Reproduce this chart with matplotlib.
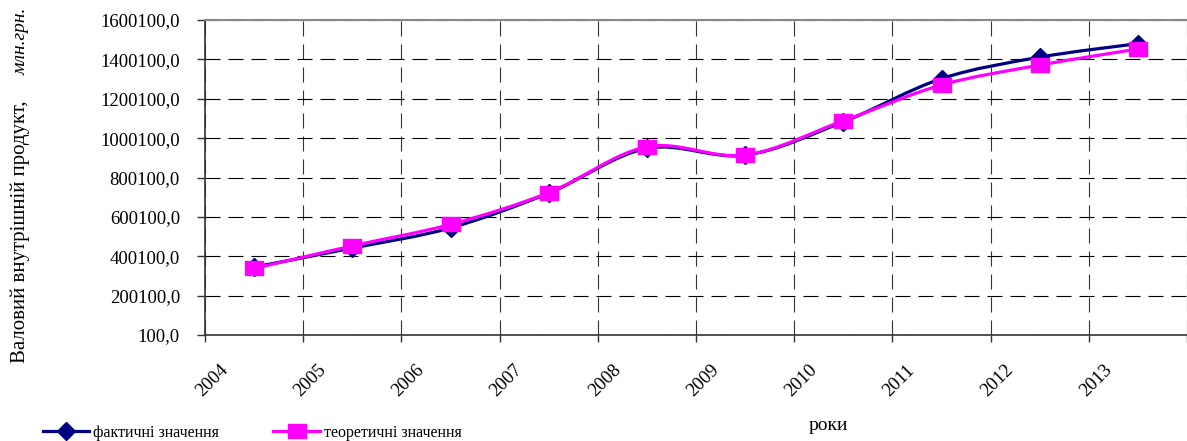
import matplotlib
matplotlib.use("Agg")
import matplotlib.pyplot as plt
from matplotlib.path import Path
from matplotlib.patches import PathPatch
from matplotlib.lines import Line2D
import matplotlib.transforms as mtransforms
import numpy as np

years = ["2004", "2005", "2006", "2007", "2008", "2009", "2010", "2011", "2012", "2013"]
actual = [345113, 441452, 544153, 720731, 948056, 913345, 1082569, 1302079, 1411238, 1480000]
theoretical = [338000, 453000, 562000, 723000, 956000, 914000, 1088000, 1270000, 1371000, 1453000]
yticks = [100 + 200000 * k for k in range(9)]
ytick_labels = ["{:d},0".format(v) for v in yticks]

W, H = 1187, 441
fig = plt.figure(figsize=(W / 100, H / 100), dpi=100)
ax = fig.add_axes([205 / W, (H - 335) / H, (W - 205) / W, 315 / H])

serif = ["Liberation Serif", "DejaVu Serif"]
x = np.arange(len(years)) + 0.5


def smooth_path(xs, ys):
    pts = np.column_stack([xs, ys]).astype(float)
    n = len(pts)
    verts = [pts[0]]
    codes = [Path.MOVETO]
    for i in range(n - 1):
        p0 = pts[i - 1] if i > 0 else pts[i]
        p1 = pts[i]
        p2 = pts[i + 1]
        p3 = pts[i + 2] if i + 2 < n else pts[i + 1]
        c1 = p1 + (p2 - p0) / 6.0
        c2 = p2 - (p3 - p1) / 6.0
        verts += [c1, c2, p2]
        codes += [Path.CURVE4] * 3
    return Path(verts, codes)


navy = "#000080"
mag = "#FF00FF"
ax.add_patch(PathPatch(smooth_path(x, actual), fill=False, edgecolor=navy, lw=2.3, zorder=3))
ax.plot(x, actual, linestyle="none", marker="D", markersize=9, color=navy, zorder=4)
ax.add_patch(PathPatch(smooth_path(x, theoretical), fill=False, edgecolor=mag, lw=2.3, zorder=5))
rect = [(-9, -6.5), (9, -6.5), (9, 6.5), (-9, 6.5), (-9, -6.5)]
ax.plot(x, theoretical, linestyle="none", marker=rect, markersize=13, color=mag, zorder=6)

ax.set_xlim(0, (W - 205) / 98.7)
ax.set_ylim(100, 1600100)
ax.set_xticks(range(0, 11))
ax.set_yticks(yticks)
ax.set_yticklabels(ytick_labels, family=serif, fontsize=13.5)
ax.tick_params(axis="x", labelbottom=False, direction="out", length=5, width=1, color="#333333")
ax.tick_params(axis="y", direction="out", length=6, width=1, color="#333333", pad=12)

ax.grid(True, color="black", linewidth=0.8, linestyle=(0, (13.5, 7.2)), zorder=1)
ax.xaxis.grid(True, color="#333333")
for s in ["left", "bottom"]:
    ax.spines[s].set_color("#333333")
    ax.spines[s].set_linewidth(1.2)
ax.spines["top"].set_color("#888888")
ax.spines["top"].set_linewidth(1.5)
ax.spines["right"].set_visible(False)

off = mtransforms.ScaledTranslation(7 / 100, 0, fig.dpi_scale_trans)
tr = mtransforms.blended_transform_factory(ax.transData, ax.transAxes) + off
for i, y in enumerate(years):
    ax.text(i, (335 - 381) / 315, y, transform=tr, rotation=45, ha="center", va="center",
            family=serif, fontsize=13.5, rotation_mode="anchor")

fig.text(828 / W, 1 - 425 / H, "роки", ha="center", va="center", family=serif, fontsize=14)

fig.text(20 / W, 1 - 363 / H, "Валовий внутрішній продукт,", rotation=90, ha="center",
         va="bottom", family=serif, fontsize=15)
fig.text(21 / W, 1 - 8 / H, "млн.грн.", rotation=90, ha="center", va="top",
         family=serif, fontsize=14, style="italic")

h1 = Line2D([], [], color=navy, lw=2.3, marker="D", markersize=9)
h2 = Line2D([], [], color=mag, lw=2.3, marker=rect, markersize=13)
fig.legend([h1, h2], ["фактичні значення", "теоретичні значення"], loc="center left",
           bbox_to_anchor=(43 / W, 1 - 433 / H), ncol=2, frameon=False,
           prop={"family": serif, "size": 11.5}, handlelength=2.9, handletextpad=0.25,
           columnspacing=3.4, borderpad=0, borderaxespad=0)

fig.savefig("out.png", dpi=100)
